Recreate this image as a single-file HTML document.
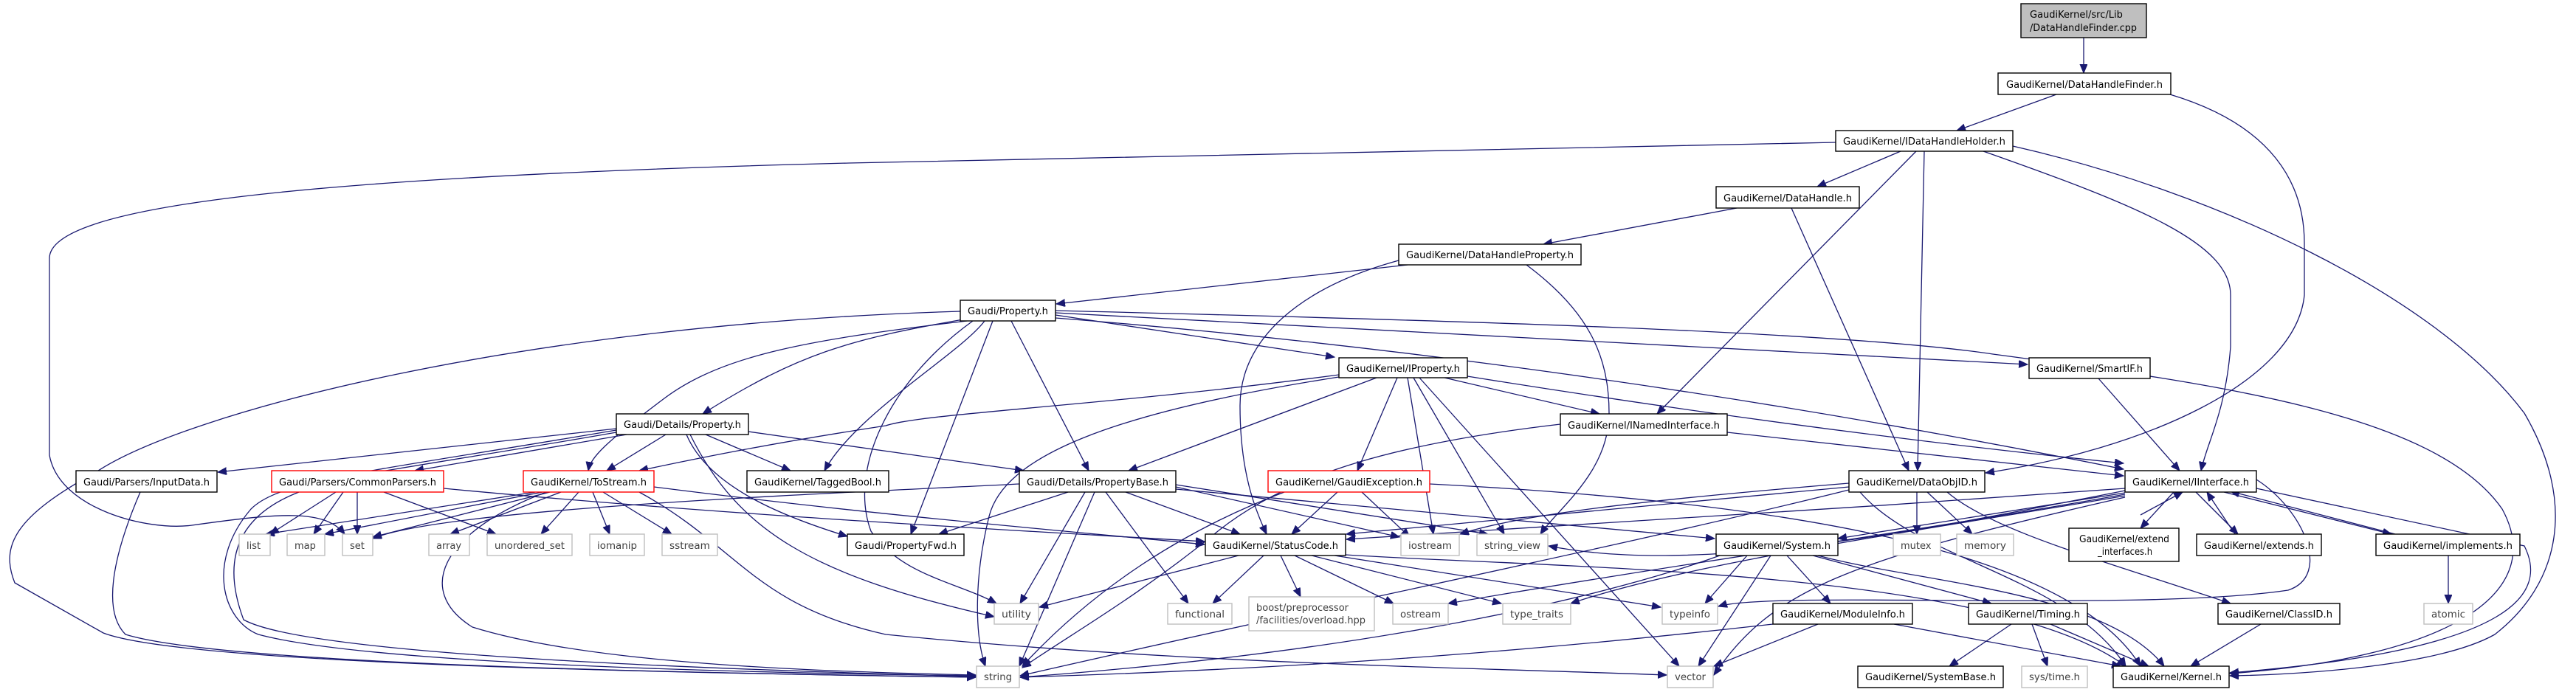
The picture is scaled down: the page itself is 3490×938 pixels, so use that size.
<!DOCTYPE html>
<html><head><meta charset="utf-8"><style>
html,body{margin:0;padding:0;background:#fff;}
svg{display:block;}
text{font-family:"DejaVu Sans","Liberation Sans",sans-serif;font-size:13px;fill:#000;}
.e{fill:none;stroke:#191970;stroke-width:1.3;}
.n{fill:#fff;stroke:#000;stroke-width:1.4;}
.g{fill:#fff;stroke:#bfbfbf;stroke-width:1.4;}
.r{fill:#fff;stroke:#ff0000;stroke-width:1.4;}
.gt{fill:#3f3f3f;}
</style></head><body>
<svg width="3490" height="938" viewBox="0 0 3490 938" xmlns="http://www.w3.org/2000/svg">
<defs><marker id="a" markerUnits="userSpaceOnUse" markerWidth="14" markerHeight="12" refX="12" refY="5" orient="auto"><path d="M0,0 L12,5 L0,10 z" fill="#191970" stroke="#191970"/></marker></defs>
<g marker-end="url(#a)">
<path class="e" d="M2823 51 L2823 99"/>
<path class="e" d="M2786 128 L2651 177"/>
<path class="e" d="M2940 128 C3080 170 3122 250 3122 330 L3122 400 C3110 520 2900 610 2690 641"/>
<path class="e" d="M2575 205 L2462 253"/>
<path class="e" d="M2487 193 L1150 221 C400 240 67 280 67 350 L67 617 C80 690 200 720 260 712 C380 695 440 690 467 724"/>
<path class="e" d="M2596 205 L2245 561"/>
<path class="e" d="M2607 205 L2598 638"/>
<path class="e" d="M2687 205 C2900 280 3022 330 3022 400 L3022 470 C3015 560 2990 600 2982 638"/>
<path class="e" d="M2727 198 C3000 260 3300 400 3420 560 C3490 680 3470 790 3380 860 C3300 905 3100 915 3021 916"/>
<path class="e" d="M2353 282 L2091 331"/>
<path class="e" d="M2427 282 L2586 638"/>
<path class="e" d="M1907 359 L1431 412"/>
<path class="e" d="M1895 353 C1760 390 1680 460 1680 550 C1680 640 1700 690 1716 724"/>
<path class="e" d="M2068 359 C2150 420 2180 480 2180 560 C2180 640 2110 690 2087 724"/>
<path class="e" d="M1430 427 L1808 484"/>
<path class="e" d="M1430 424 L2747 494"/>
<path class="e" d="M1430 421 C2000 435 2500 450 2700 480 C3000 520 3300 560 3390 690 C3450 800 3330 890 3021 913"/>
<path class="e" d="M1430 431 C1800 460 2300 520 2877 636"/>
<path class="e" d="M1301 422 C700 440 250 560 130 640 C20 700 0 740 20 790 L140 858 C250 900 900 912 1322 918"/>
<path class="e" d="M1305 433 C1150 460 1080 480 952 561"/>
<path class="e" d="M1310 435 C1100 460 980 480 900 540 C820 600 800 620 797 638"/>
<path class="e" d="M1334 435 C1300 480 1160 560 1117 638"/>
<path class="e" d="M1345 435 L1234 724"/>
<path class="e" d="M1370 435 L1475 638"/>
<path class="e" d="M1318 435 C1200 520 1150 640 1180 720 C1220 780 1300 790 1350 818"/>
<path class="e" d="M1957 512 L2167 561"/>
<path class="e" d="M1988 510 C2300 560 2600 600 2877 628"/>
<path class="e" d="M1865 512 L1529 638"/>
<path class="e" d="M1893 512 L1839 638"/>
<path class="e" d="M1907 512 L1942 724"/>
<path class="e" d="M1915 512 L2038 724"/>
<path class="e" d="M1923 512 L2275 903"/>
<path class="e" d="M1814 508 C1500 550 1250 560 1200 577 C1050 600 950 620 866 638"/>
<path class="e" d="M1814 511 C1500 560 1360 620 1340 700 C1320 780 1320 860 1335 903"/>
<path class="e" d="M835 581 L295 640"/>
<path class="e" d="M835 586 C700 610 500 640 400 660"/>
<path class="e" d="M849 589 L562 638"/>
<path class="e" d="M902 589 L822 638"/>
<path class="e" d="M956 589 L1071 638"/>
<path class="e" d="M1014 585 L1387 638"/>
<path class="e" d="M930 589 C960 660 1060 700 1148 727"/>
<path class="e" d="M935 589 C1000 720 1100 780 1347 836"/>
<path class="e" d="M835 583 C500 640 380 650 340 690 C280 760 300 840 350 860 C500 900 1000 912 1322 916"/>
<path class="e" d="M725 667 L360 724"/>
<path class="e" d="M735 667 L440 724"/>
<path class="e" d="M745 667 L505 728"/>
<path class="e" d="M760 667 L610 724"/>
<path class="e" d="M784 667 L733 724"/>
<path class="e" d="M803 667 L826 724"/>
<path class="e" d="M817 667 L910 724"/>
<path class="e" d="M740 667 C600 720 560 800 640 850 C800 900 1100 910 1322 915"/>
<path class="e" d="M866 667 C1000 740 1020 820 1200 860 C1600 900 2000 905 2258 915"/>
<path class="e" d="M886 660 C1200 700 1450 720 1632 738"/>
<path class="e" d="M455 667 L366 724"/>
<path class="e" d="M465 667 L425 724"/>
<path class="e" d="M484 667 L484 724"/>
<path class="e" d="M520 667 L672 724"/>
<path class="e" d="M405 667 C320 700 300 760 330 840 C420 890 1000 908 1322 917"/>
<path class="e" d="M601 662 C1000 700 1400 720 1632 734"/>
<path class="e" d="M190 667 C150 760 140 830 170 860 C300 900 900 912 1322 918"/>
<path class="e" d="M1447 667 L1272 724"/>
<path class="e" d="M1470 667 L1382 818"/>
<path class="e" d="M1483 667 L1381 903"/>
<path class="e" d="M1498 667 L1610 818"/>
<path class="e" d="M1525 667 L1680 724"/>
<path class="e" d="M1593 660 L1896 728"/>
<path class="e" d="M1593 657 L2016 724"/>
<path class="e" d="M1593 663 L2323 730"/>
<path class="e" d="M1381 656 C1100 670 600 690 505 730"/>
<path class="e" d="M1812 667 L1750 724"/>
<path class="e" d="M1845 667 L1910 728"/>
<path class="e" d="M1740 667 C1600 720 1480 800 1385 903"/>
<path class="e" d="M1937 656 C2400 680 2800 740 2900 903"/>
<path class="e" d="M2340 586 L2877 645"/>
<path class="e" d="M2114 575 C1900 600 1750 640 1650 720 C1540 810 1450 860 1385 905"/>
<path class="e" d="M2843 513 L2953 638"/>
<path class="e" d="M2597 667 L2597 724"/>
<path class="e" d="M2611 667 L2672 724"/>
<path class="e" d="M2505 655 C2200 680 2050 700 1978 724"/>
<path class="e" d="M2505 660 C2200 690 1950 710 1824 724"/>
<path class="e" d="M2505 664 C2200 740 1800 820 1382 916"/>
<path class="e" d="M2638 667 C2700 720 2850 760 3022 818"/>
<path class="e" d="M2520 667 C2600 760 2800 780 2880 903"/>
<path class="e" d="M2879 668 L2490 730"/>
<path class="e" d="M2879 662 C2500 690 2000 720 1824 731"/>
<path class="e" d="M2945 667 L2900 716"/>
<path class="e" d="M2975 667 L3032 724"/>
<path class="e" d="M3013 667 L3240 724"/>
<path class="e" d="M3057 662 L3420 740 C3450 800 3420 880 3021 912"/>
<path class="e" d="M3057 650 C3120 690 3160 780 3100 800 C2900 830 2400 800 2328 822"/>
<path class="e" d="M2879 665 C2600 720 2300 780 2098 740"/>
<path class="e" d="M2879 670 C2600 720 2300 760 1962 818"/>
<path class="e" d="M2879 672 C2600 720 2300 760 2128 818"/>
<path class="e" d="M2879 674 C2500 760 2400 800 2322 915"/>
<path class="e" d="M2900 698 L2957 667"/>
<path class="e" d="M3028 724 L2990 667"/>
<path class="e" d="M3245 724 L3022 666"/>
<path class="e" d="M3317 753 L3317 818"/>
<path class="e" d="M2367 753 L2310 818"/>
<path class="e" d="M2399 753 L2301 903"/>
<path class="e" d="M2330 753 C2200 800 1900 880 1382 918"/>
<path class="e" d="M2421 753 L2480 818"/>
<path class="e" d="M2456 753 L2698 818"/>
<path class="e" d="M2463 753 C2600 790 2850 800 2932 903"/>
<path class="e" d="M2402 846 C2100 880 1800 905 1382 918"/>
<path class="e" d="M2463 846 L2322 903"/>
<path class="e" d="M2566 846 L2873 903"/>
<path class="e" d="M2725 846 L2641 903"/>
<path class="e" d="M2753 846 L2774 903"/>
<path class="e" d="M2778 846 L2911 903"/>
<path class="e" d="M3063 846 L2968 903"/>
<path class="e" d="M1678 753 L1408 823"/>
<path class="e" d="M1712 753 L1643 818"/>
<path class="e" d="M1735 753 L1762 809"/>
<path class="e" d="M1754 753 L1888 818"/>
<path class="e" d="M1777 753 L2034 818"/>
<path class="e" d="M1808 753 L2250 823"/>
<path class="e" d="M1823 752 C2100 770 2700 770 2880 903"/>
</g>
<!-- nodes -->
<rect x="2738" y="5" width="170" height="46" fill="#bfbfbf" stroke="#000" stroke-width="1.4"/>
<text x="2750" y="24">GaudiKernel/src/Lib</text><text x="2750" y="42" textLength="145" lengthAdjust="spacingAndGlyphs">/DataHandleFinder.cpp</text>
<rect class="n" x="2707" y="99" width="234" height="29"/><text x="2718" y="119" textLength="212" lengthAdjust="spacingAndGlyphs">GaudiKernel/DataHandleFinder.h</text>
<rect class="n" x="2487" y="177" width="240" height="28"/><text x="2497" y="196" textLength="220" lengthAdjust="spacingAndGlyphs">GaudiKernel/IDataHandleHolder.h</text>
<rect class="n" x="2325" y="253" width="194" height="29"/><text x="2335" y="273" textLength="174" lengthAdjust="spacingAndGlyphs">GaudiKernel/DataHandle.h</text>
<rect class="n" x="1895" y="331" width="247" height="28"/><text x="1905" y="350" textLength="227" lengthAdjust="spacingAndGlyphs">GaudiKernel/DataHandleProperty.h</text>
<rect class="n" x="1301" y="407" width="129" height="28"/><text x="1311" y="426" textLength="109" lengthAdjust="spacingAndGlyphs">Gaudi/Property.h</text>
<rect class="n" x="1814" y="485" width="174" height="27"/><text x="1824" y="504" textLength="154" lengthAdjust="spacingAndGlyphs">GaudiKernel/IProperty.h</text>
<rect class="n" x="2749" y="485" width="164" height="28"/><text x="2759" y="504" textLength="144" lengthAdjust="spacingAndGlyphs">GaudiKernel/SmartIF.h</text>
<rect class="n" x="835" y="561" width="179" height="28"/><text x="845" y="580" textLength="159" lengthAdjust="spacingAndGlyphs">Gaudi/Details/Property.h</text>
<rect class="n" x="2114" y="561" width="226" height="29"/><text x="2124" y="581" textLength="206" lengthAdjust="spacingAndGlyphs">GaudiKernel/INamedInterface.h</text>
<rect class="n" x="103" y="638" width="191" height="29"/><text x="113" y="658" textLength="171" lengthAdjust="spacingAndGlyphs">Gaudi/Parsers/InputData.h</text>
<rect class="r" x="368" y="638" width="233" height="29"/><text x="378" y="658" textLength="213" lengthAdjust="spacingAndGlyphs">Gaudi/Parsers/CommonParsers.h</text>
<rect class="r" x="709" y="638" width="177" height="29"/><text x="719" y="658" textLength="157" lengthAdjust="spacingAndGlyphs">GaudiKernel/ToStream.h</text>
<rect class="n" x="1012" y="638" width="192" height="29"/><text x="1022" y="658" textLength="172" lengthAdjust="spacingAndGlyphs">GaudiKernel/TaggedBool.h</text>
<rect class="n" x="1381" y="638" width="212" height="29"/><text x="1391" y="658" textLength="192" lengthAdjust="spacingAndGlyphs">Gaudi/Details/PropertyBase.h</text>
<rect class="r" x="1718" y="638" width="219" height="29"/><text x="1728" y="658" textLength="199" lengthAdjust="spacingAndGlyphs">GaudiKernel/GaudiException.h</text>
<rect class="n" x="2505" y="638" width="184" height="29"/><text x="2515" y="658" textLength="164" lengthAdjust="spacingAndGlyphs">GaudiKernel/DataObjID.h</text>
<rect class="n" x="2879" y="638" width="178" height="29"/><text x="2889" y="658" textLength="158" lengthAdjust="spacingAndGlyphs">GaudiKernel/IInterface.h</text>
<rect class="g" x="324" y="724" width="42" height="29"/><text class="gt" x="334" y="744">list</text>
<rect class="g" x="389" y="724" width="51" height="29"/><text class="gt" x="399" y="744">map</text>
<rect class="g" x="464" y="724" width="41" height="29"/><text class="gt" x="474" y="744">set</text>
<rect class="g" x="581" y="724" width="55" height="29"/><text class="gt" x="591" y="744">array</text>
<rect class="g" x="660" y="724" width="115" height="29"/><text class="gt" x="670" y="744" textLength="95" lengthAdjust="spacingAndGlyphs">unordered_set</text>
<rect class="g" x="799" y="724" width="74" height="29"/><text class="gt" x="809" y="744" textLength="54" lengthAdjust="spacingAndGlyphs">iomanip</text>
<rect class="g" x="897" y="724" width="75" height="29"/><text class="gt" x="907" y="744" textLength="55" lengthAdjust="spacingAndGlyphs">sstream</text>
<rect class="n" x="1148" y="724" width="158" height="29"/><text x="1158" y="744" textLength="138" lengthAdjust="spacingAndGlyphs">Gaudi/PropertyFwd.h</text>
<rect class="n" x="1633" y="724" width="190" height="29"/><text x="1643" y="744" textLength="170" lengthAdjust="spacingAndGlyphs">GaudiKernel/StatusCode.h</text>
<rect class="g" x="1898" y="724" width="79" height="29"/><text class="gt" x="1908" y="744" textLength="59" lengthAdjust="spacingAndGlyphs">iostream</text>
<rect class="g" x="2001" y="724" width="96" height="29"/><text class="gt" x="2011" y="744" textLength="76" lengthAdjust="spacingAndGlyphs">string_view</text>
<rect class="n" x="2325" y="724" width="165" height="29"/><text x="2335" y="744" textLength="145" lengthAdjust="spacingAndGlyphs">GaudiKernel/System.h</text>
<rect class="g" x="2565" y="724" width="64" height="29"/><text class="gt" x="2575" y="744">mutex</text>
<rect class="g" x="2651" y="724" width="77" height="29"/><text class="gt" x="2661" y="744" textLength="57" lengthAdjust="spacingAndGlyphs">memory</text>
<rect class="n" x="2803" y="716" width="149" height="45"/><text x="2817" y="735" textLength="122" lengthAdjust="spacingAndGlyphs">GaudiKernel/extend</text><text x="2842" y="752" textLength="74" lengthAdjust="spacingAndGlyphs">_interfaces.h</text>
<rect class="n" x="2976" y="724" width="169" height="29"/><text x="2986" y="744" textLength="149" lengthAdjust="spacingAndGlyphs">GaudiKernel/extends.h</text>
<rect class="n" x="3219" y="724" width="195" height="29"/><text x="3229" y="744" textLength="175" lengthAdjust="spacingAndGlyphs">GaudiKernel/implements.h</text>
<rect class="g" x="1347" y="818" width="60" height="28"/><text class="gt" x="1357" y="837" textLength="40" lengthAdjust="spacingAndGlyphs">utility</text>
<rect class="g" x="1582" y="818" width="87" height="28"/><text class="gt" x="1592" y="837" textLength="67" lengthAdjust="spacingAndGlyphs">functional</text>
<rect class="g" x="1692" y="809" width="170" height="46"/><text class="gt" x="1702" y="828" textLength="125" lengthAdjust="spacingAndGlyphs">boost/preprocessor</text><text class="gt" x="1702" y="845" textLength="148" lengthAdjust="spacingAndGlyphs">/facilities/overload.hpp</text>
<rect class="g" x="1887" y="818" width="75" height="28"/><text class="gt" x="1897" y="837" textLength="55" lengthAdjust="spacingAndGlyphs">ostream</text>
<rect class="g" x="2036" y="818" width="92" height="28"/><text class="gt" x="2046" y="837" textLength="72" lengthAdjust="spacingAndGlyphs">type_traits</text>
<rect class="g" x="2252" y="818" width="75" height="28"/><text class="gt" x="2262" y="837" textLength="55" lengthAdjust="spacingAndGlyphs">typeinfo</text>
<rect class="n" x="2402" y="818" width="189" height="28"/><text x="2412" y="837" textLength="169" lengthAdjust="spacingAndGlyphs">GaudiKernel/ModuleInfo.h</text>
<rect class="n" x="2667" y="818" width="161" height="28"/><text x="2677" y="837" textLength="141" lengthAdjust="spacingAndGlyphs">GaudiKernel/Timing.h</text>
<rect class="n" x="3005" y="818" width="165" height="28"/><text x="3015" y="837" textLength="145" lengthAdjust="spacingAndGlyphs">GaudiKernel/ClassID.h</text>
<rect class="g" x="3284" y="818" width="66" height="28"/><text class="gt" x="3294" y="837" textLength="46" lengthAdjust="spacingAndGlyphs">atomic</text>
<rect class="g" x="1323" y="903" width="58" height="29"/><text class="gt" x="1333" y="922" textLength="38" lengthAdjust="spacingAndGlyphs">string</text>
<rect class="g" x="2259" y="903" width="62" height="29"/><text class="gt" x="2269" y="922" textLength="42" lengthAdjust="spacingAndGlyphs">vector</text>
<rect class="n" x="2517" y="903" width="197" height="29"/><text x="2527" y="922" textLength="177" lengthAdjust="spacingAndGlyphs">GaudiKernel/SystemBase.h</text>
<rect class="g" x="2739" y="903" width="89" height="29"/><text class="gt" x="2749" y="922" textLength="69" lengthAdjust="spacingAndGlyphs">sys/time.h</text>
<rect class="n" x="2863" y="903" width="157" height="29"/><text x="2873" y="922" textLength="137" lengthAdjust="spacingAndGlyphs">GaudiKernel/Kernel.h</text>
</svg>
</body></html>
